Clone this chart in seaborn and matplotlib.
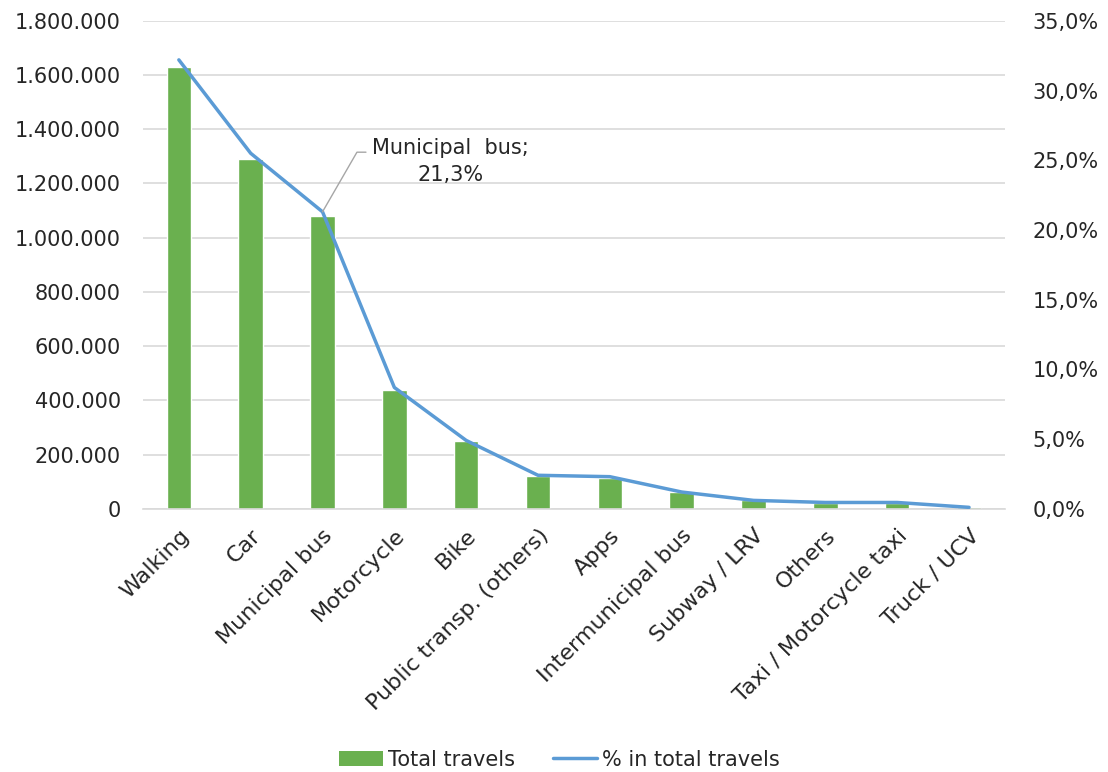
import matplotlib
matplotlib.use("Agg")
import matplotlib.pyplot as plt
import matplotlib.ticker as mticker
from matplotlib.lines import Line2D
from matplotlib.patches import Patch
import seaborn as sns
import numpy as np

categories = ["Walking", "Car", "Municipal bus", "Motorcycle", "Bike",
              "Public transp. (others)", "Apps", "Intermunicipal bus",
              "Subway / LRV", "Others", "Taxi / Motorcycle taxi", "Truck / UCV"]
total_travels = [1630000, 1291000, 1081000, 439000, 251000, 122000,
                 114000, 63000, 33000, 22000, 22000, 7000]
pct_total = [32.2, 25.5, 21.3, 8.7, 4.9, 2.4, 2.3, 1.2, 0.6, 0.45, 0.45, 0.1]

sns.set_theme(style="white")
plt.rcParams['font.family'] = ['DejaVu Sans']

green = "#6ab04f"
blue = "#5b9bd5"
fs = 15
tc = "#262626"

fig = plt.figure(figsize=(11.08, 7.72), dpi=100)
ax = fig.add_axes([0.129, 0.341, 0.778, 0.632])

sns.barplot(x=categories, y=total_travels, color=green, width=0.34,
            saturation=1, ax=ax)
ax.set_ylim(0, 1800000)
ax.set_xlim(-0.5, len(categories) - 0.5)
ax.yaxis.set_major_locator(mticker.MultipleLocator(200000))
ax.yaxis.set_major_formatter(mticker.FuncFormatter(
    lambda v, p: f"{int(v):,}".replace(",", ".")))
ax.grid(axis="y", color="#d9d9d9", linewidth=1.2)
ax.set_axisbelow(True)
for s in ["top", "right", "left"]:
    ax.spines[s].set_visible(False)
ax.spines["bottom"].set_color("#d9d9d9")
ax.spines["bottom"].set_linewidth(1.2)
ax.tick_params(axis="y", labelsize=fs, colors=tc, length=0, pad=16)
ax.tick_params(axis="x", labelsize=fs + 1, colors=tc, length=0, pad=12)
ax.set_xticks(range(len(categories)))
ax.set_xticklabels(categories, rotation=45, ha="right", rotation_mode="anchor")
ax.set_xlabel("")
ax.set_ylabel("")

ax2 = ax.twinx()
sns.lineplot(x=np.arange(len(categories)), y=pct_total, color=blue,
             linewidth=2.5, ax=ax2, sort=False)
ax2.set_ylim(0, 35)
ax2.yaxis.set_major_locator(mticker.MultipleLocator(5))
ax2.yaxis.set_major_formatter(mticker.FuncFormatter(
    lambda v, p: f"{v:.1f}%".replace(".", ",")))
ax2.tick_params(axis="y", labelsize=fs, colors=tc, length=0, pad=20)
for s in ["top", "right", "left", "bottom"]:
    ax2.spines[s].set_visible(False)
ax2.grid(False)
ax2.set_ylabel("")

# annotation for Municipal bus
ax2.annotate("Municipal  bus;\n21,3%", xy=(2, pct_total[2]),
             xytext=(3.78, 24.9), textcoords="data",
             ha="center", va="center", fontsize=fs, color=tc, linespacing=1.45,
             arrowprops=dict(arrowstyle="-", color="#a6a6a6", lw=1,
                             connectionstyle="angle,angleA=0,angleB=60,rad=0",
                             shrinkA=2, shrinkB=0,
                             relpos=(0.0, 0.7)))

handles = [Patch(facecolor=green, edgecolor="none", label="Total travels"),
           Line2D([0], [0], color=blue, lw=2.5, label="% in total travels")]
fig.legend(handles=handles, loc="center", bbox_to_anchor=(0.505, 0.016),
           ncol=2, frameon=False, fontsize=fs, handlelength=2.1,
           columnspacing=1.8, handletextpad=0.25, labelcolor=tc)

fig.savefig("out.png", dpi=100)
